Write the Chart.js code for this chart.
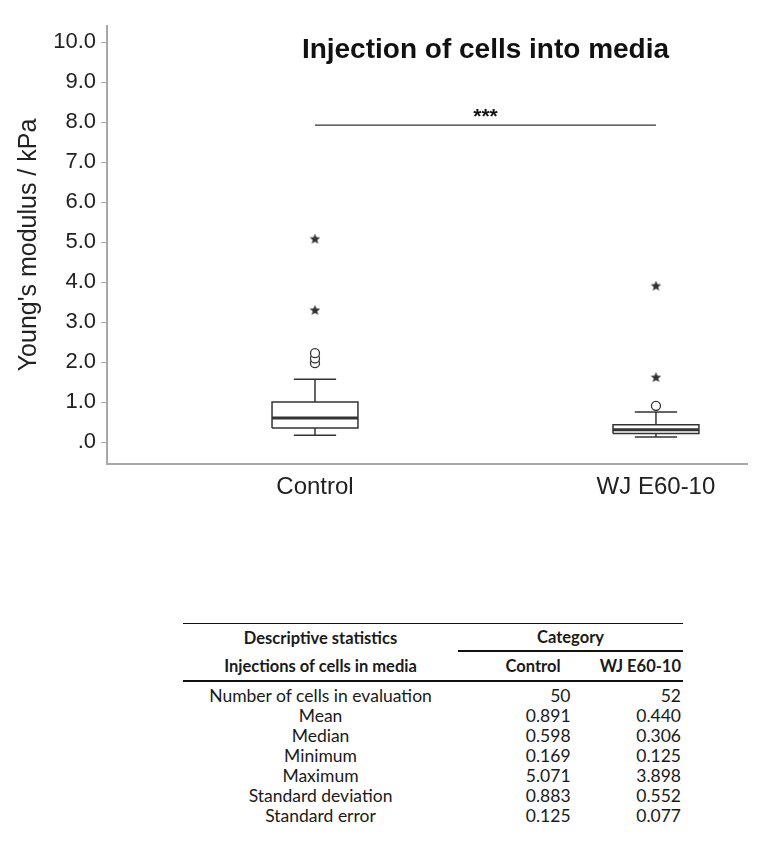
<!DOCTYPE html>
<html>
<head>
<meta charset="utf-8">
<script src="https://cdn.jsdelivr.net/npm/chart.js@4/dist/chart.umd.min.js"></script>
<style>
    body { margin: 0; background: #fff; width: 770px; height: 866px; position: relative; overflow: hidden; }
    #chartWrap { position: absolute; left: 0; top: 0; width: 770px; height: 520px; }
    #stats { position: absolute; left: 183px; top: 623px; width: 500px; border-collapse: collapse;
        font-family: Lato, 'Open Sans', sans-serif; font-size: 17.5px; color: #1a1a1a; }
    #stats td { padding: 0; line-height: 20px; height: 20px; white-space: nowrap; }
    #stats .lbl { text-align: center; width: 280px; }
    #stats .num { text-align: right; }
    #stats .c1 { width: 107px; padding-right: 2px; }
    #stats .c2 { width: 111px; padding-right: 2px; }
    #stats thead td { font-weight: bold; font-size: 16.5px; }
    #stats .h1 td { height: 26px; border-top: 1.5px solid #111; }
    #stats .h2 td { height: 28px; border-bottom: 2px solid #111; }
    #stats .catLine { border-bottom: 2px solid #111; text-align: center; }
    #stats tbody tr:first-child td { padding-top: 4px; }
</style>
</head>
<body>
<div id="chartWrap"><canvas id="boxChart"></canvas></div>
<table id="stats"></table>

<script>
// ---- data ----
const categories = ['Control', 'WJ E60-10'];
const whiskerLow = [0.169, 0.125];
const q1 = [0.35, 0.21];
const median = [0.598, 0.306];
const q3 = [1.0, 0.43];
const whiskerHigh = [1.57, 0.75];
const outlierCircles = [[1.97, 2.09, 2.22], [0.905]];
const extremeStars = [[3.29, 5.071], [1.61, 3.898]];
const yTicks = [0, 1, 2, 3, 4, 5, 6, 7, 8, 9, 10];

const chartTitle = 'Injection of cells into media';
const yTitle = "Young's modulus / kPa";
const sigLabel = '***';

const statLabels = ['Number of cells in evaluation', 'Mean', 'Median', 'Minimum', 'Maximum', 'Standard deviation', 'Standard error'];
const controlStats = ['50', '0.891', '0.598', '0.169', '5.071', '0.883', '0.125'];
const wjStats = ['52', '0.440', '0.306', '0.125', '3.898', '0.552', '0.077'];

// ---- layout constants ----
const BOX_HALF = 0.126;
const CAP_HALF = 0.062;
const SIG_Y = 7.92;
const SIG_LABEL_Y = 8.27;
const TITLE_Y = 9.8;
const INK = '#333';

function starCanvas(size) {
    const c = document.createElement('canvas');
    c.width = c.height = size;
    const g = c.getContext('2d');
    const cx = size / 2, cy = size / 2, R = size / 2, r = R * 0.45;
    g.beginPath();
    for (let i = 0; i < 10; i++) {
        const rad = i % 2 === 0 ? R : r;
        const a = -Math.PI / 2 + i * Math.PI / 5;
        g.lineTo(cx + rad * Math.cos(a), cy + rad * Math.sin(a));
    }
    g.closePath();
    g.fillStyle = INK;
    g.fill();
    return c;
}
const starImg = starCanvas(11);

function lineSet(points, width) {
    return { data: points, showLine: true, borderColor: INK, borderWidth: width, pointRadius: 0, fill: false, tension: 0 };
}

const datasets = [];
categories.forEach((cat, i) => {
    const x = i + 1;
    datasets.push(lineSet([{ x: x, y: whiskerLow[i] }, { x: x, y: q1[i] }], 1.5));
    datasets.push(lineSet([{ x: x, y: q3[i] }, { x: x, y: whiskerHigh[i] }], 1.5));
    datasets.push(lineSet([{ x: x - CAP_HALF, y: whiskerLow[i] }, { x: x + CAP_HALF, y: whiskerLow[i] }], 1.5));
    datasets.push(lineSet([{ x: x - CAP_HALF, y: whiskerHigh[i] }, { x: x + CAP_HALF, y: whiskerHigh[i] }], 1.5));
    datasets.push(lineSet([
        { x: x - BOX_HALF, y: q1[i] }, { x: x + BOX_HALF, y: q1[i] },
        { x: x + BOX_HALF, y: q3[i] }, { x: x - BOX_HALF, y: q3[i] },
        { x: x - BOX_HALF, y: q1[i] }
    ], 1.5));
    datasets.push(lineSet([{ x: x - BOX_HALF, y: median[i] }, { x: x + BOX_HALF, y: median[i] }], 3));
    datasets.push({
        data: outlierCircles[i].map(v => ({ x: x, y: v })),
        pointStyle: 'circle', pointRadius: 4.5, borderWidth: 1.3,
        borderColor: INK, backgroundColor: '#fff'
    });
    datasets.push({
        data: extremeStars[i].map(v => ({ x: x, y: v })),
        pointStyle: starImg, pointRadius: 5
    });
});
// significance bar between the two groups
datasets.push(lineSet([{ x: 1, y: SIG_Y }, { x: categories.length, y: SIG_Y }], 1.3));

const annotations = {
    id: 'annotations',
    afterDatasetsDraw(chart) {
        const { ctx, scales } = chart;
        const mid = scales.x.getPixelForValue((1 + categories.length) / 2);
        ctx.save();
        ctx.fillStyle = '#111';
        ctx.textAlign = 'center';
        ctx.textBaseline = 'middle';
        ctx.font = 'bold 28px "Liberation Sans", Arial, sans-serif';
        ctx.fillText(chartTitle, mid, scales.y.getPixelForValue(TITLE_Y));
        ctx.font = 'bold 21px "Liberation Sans", Arial, sans-serif';
        ctx.fillText(sigLabel, mid, scales.y.getPixelForValue(SIG_LABEL_Y) + 6);
        ctx.restore();
    }
};

new Chart(document.getElementById('boxChart'), {
    type: 'scatter',
    data: { datasets },
    options: {
        responsive: true, maintainAspectRatio: false, animation: false,
        layout: { padding: { left: 0, right: 23, top: 26, bottom: 0 } },
        plugins: { legend: { display: false }, tooltip: { enabled: false } },
        scales: {
            x: {
                type: 'linear', min: 0.39, max: 2.267,
                afterBuildTicks: s => { s.ticks = categories.map((c, i) => ({ value: i + 1 })); },
                afterFit: s => { s.height = 56; },
                ticks: {
                    color: '#222', padding: 9,
                    font: { size: 24, family: '"Liberation Sans", Arial, sans-serif' },
                    callback: v => categories[v - 1]
                },
                grid: { display: false, drawTicks: false },
                border: { display: true, color: '#a8a8a8', width: 2 }
            },
            y: {
                min: -0.55, max: 10.4,
                afterBuildTicks: s => { s.ticks = yTicks.map(v => ({ value: v })); },
                afterFit: s => { s.width = 107; },
                ticks: {
                    color: '#222', padding: 5,
                    font: { size: 22, family: '"Liberation Sans", Arial, sans-serif' },
                    callback: v => (v === 0 ? '.0' : v.toFixed(1))
                },
                grid: { drawOnChartArea: false, tickLength: 6, tickColor: '#a8a8a8', tickWidth: 1 },
                border: { display: true, color: '#a8a8a8', width: 2 },
                title: {
                    display: true, text: yTitle, color: '#222', padding: { top: 14, bottom: 0 },
                    font: { size: 25, family: '"Liberation Sans", Arial, sans-serif' }
                }
            }
        }
    },
    plugins: [annotations]
});

// ---- descriptive statistics table ----
const table = document.getElementById('stats');
let html = '<thead>' +
    '<tr class="h1"><td class="lbl">Descriptive statistics</td><td colspan="2" class="catLine">Category</td></tr>' +
    '<tr class="h2"><td class="lbl">Injections of cells in media</td>' +
    '<td class="num c1" style="padding-right:12px">' + categories[0] + '</td>' +
    '<td class="num c2">' + categories[1] + '</td></tr></thead><tbody>';
statLabels.forEach((lbl, i) => {
    html += '<tr><td class="lbl">' + lbl + '</td><td class="num c1">' + controlStats[i] +
        '</td><td class="num c2">' + wjStats[i] + '</td></tr>';
});
html += '</tbody>';
table.innerHTML = html;
</script>
</body>
</html>
